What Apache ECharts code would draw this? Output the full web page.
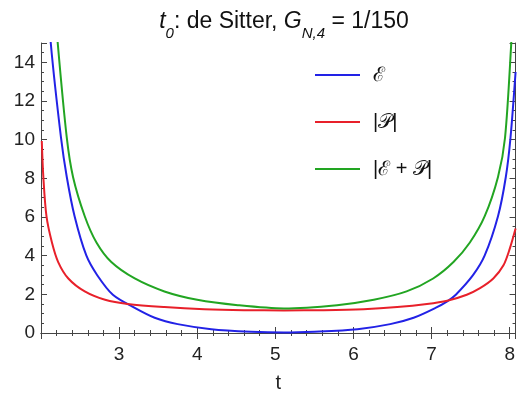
<!DOCTYPE html>
<html><head><meta charset="utf-8">
<script src="https://cdn.jsdelivr.net/npm/echarts@6/dist/echarts.min.js"></script>
<style>html,body{margin:0;padding:0;background:#fff}#c{width:518px;height:398px}</style>
</head><body><div id="c"></div>
<script>
// Energy density E (blue)
const tE = [2.08, 2.125, 2.256, 2.33, 2.43, 2.58, 2.72, 2.92, 3.2, 3.455, 3.75, 4.18, 4.69, 5.11, 5.5, 6.05, 6.47, 6.77, 7.05, 7.2, 7.31, 7.53, 7.68, 7.85, 7.95, 8.01, 8.075];
const vE = [18, 15, 10.1, 8.07, 6.04, 4.01, 2.99, 1.98, 1.30, 0.79, 0.46, 0.2, 0.07, 0.03, 0.07, 0.2, 0.46, 0.79, 1.30, 1.64, 1.98, 2.99, 4.01, 6.04, 8.07, 10.1, 13.5];
// |P| (red)
const tP = [2.01, 2.03, 2.07, 2.14, 2.22, 2.35, 2.56, 2.82, 3.11, 3.58, 4.09, 4.6, 5.11, 5.62, 6.13, 6.56, 6.94, 7.2, 7.45, 7.62, 7.79, 7.92, 8.0, 8.075];
const vP = [9.93, 8.07, 6.04, 4.68, 3.67, 2.82, 2.15, 1.72, 1.50, 1.34, 1.23, 1.18, 1.17, 1.18, 1.23, 1.34, 1.50, 1.67, 1.98, 2.32, 2.82, 3.5, 4.35, 5.4];
// |E + P| (green)
const tEP = [2.17, 2.214, 2.33, 2.41, 2.56, 2.71, 2.9, 3.2, 3.58, 4.0, 4.52, 5.11, 5.79, 6.26, 6.68, 7.02, 7.28, 7.49, 7.68, 7.85, 7.94, 8.02, 8.05];
const vEP = [17.5, 15, 10.1, 8.07, 6.04, 4.68, 3.67, 2.82, 2.15, 1.72, 1.44, 1.27, 1.44, 1.72, 2.15, 2.82, 3.67, 4.68, 6.04, 8.07, 10.1, 15, 17.5];
const seriesNames = ['ℰ', '|𝒫|', '|ℰ + 𝒫|'];
const seriesColors = ['#2222e6', '#e8202a', '#22a522'];
const xTicks = [3, 4, 5, 6, 7, 8];
const yTicks = [0, 2, 4, 6, 8, 10, 12, 14];

const zip = (a, b) => a.map((t, i) => [t, b[i]]);
const chart = echarts.init(document.getElementById('c'), null, {renderer: 'canvas'});
const FONT = 'Liberation Sans, Arial, sans-serif';
const axisCommon = {
  axisLine: {show: true, lineStyle: {color: '#444', width: 1}},
  axisTick: {show: true, inside: true, length: 6, lineStyle: {color: '#444'}},
  splitLine: {show: false}
};
const mkSeries = (i, t, v) => ({
  name: seriesNames[i], type: 'line', data: zip(t, v), smooth: 0.3,
  showSymbol: false, symbol: 'none', clip: true,
  color: seriesColors[i], lineStyle: {width: 2, color: seriesColors[i]}
});
chart.setOption({
  animation: false,
  backgroundColor: '#fff',
  title: {
    text: '{it|t}{sub|0}{n|: de Sitter, }{it|G}{sub|N,4}{n| = 1/150}',
    left: 279, textAlign: 'center', top: 2,
    textStyle: {
      fontWeight: 'normal',
      rich: {
        n: {fontFamily: FONT, fontSize: 23, fontWeight: 'normal', color: '#111', lineHeight: 30, verticalAlign: 'middle'},
        it: {fontFamily: FONT, fontSize: 23, fontWeight: 'normal', fontStyle: 'italic', color: '#111', lineHeight: 30, verticalAlign: 'middle'},
        sub: {fontFamily: FONT, fontSize: 15, fontWeight: 'normal', fontStyle: 'italic', color: '#111', lineHeight: 14, verticalAlign: 'bottom', padding: [0, 0, -4, 0]}
      }
    }
  },
  legend: {
    orient: 'vertical', left: 310, top: 60, itemWidth: 45, itemHeight: 2, itemGap: 27,
    icon: 'rect',
    data: seriesNames,
    textStyle: {fontFamily: FONT, fontSize: 20, color: '#111', padding: [0, 0, 0, 8]}
  },
  grid: {left: 41, right: 1, top: 43, bottom: 59},
  xAxis: [{
    type: 'value', min: 2, max: 8.075, interval: 1, position: 'bottom',
    name: 't', nameLocation: 'middle', nameGap: 40,
    nameTextStyle: {fontFamily: FONT, fontSize: 20, color: '#222'},
    ...axisCommon,
    minorTick: {show: true, splitNumber: 5, length: 3, lineStyle: {color: '#444'}},
    axisLabel: {fontFamily: FONT, fontSize: 19, color: '#222', margin: 12, showMaxLabel: false, showMinLabel: false,
      formatter: v => xTicks.includes(v) ? String(v) : ''}
  }, {
    type: 'value', min: 2, max: 8.075, interval: 1, position: 'top',
    ...axisCommon,
    minorTick: {show: true, splitNumber: 5, length: 3, lineStyle: {color: '#444'}},
    axisLabel: {show: false}
  }],
  yAxis: [{
    type: 'value', min: 0, max: 15, interval: 2, position: 'left',
    ...axisCommon,
    minorTick: {show: true, splitNumber: 4, length: 3, lineStyle: {color: '#444'}},
    axisLabel: {fontFamily: FONT, fontSize: 19, color: '#222', margin: 6, showMaxLabel: false,
      formatter: v => yTicks.includes(v) ? String(v) : ''}
  }, {
    type: 'value', min: 0, max: 15, interval: 2, position: 'right',
    ...axisCommon,
    minorTick: {show: true, splitNumber: 4, length: 3, lineStyle: {color: '#444'}},
    axisLabel: {show: false}
  }],
  series: [mkSeries(0, tE, vE), mkSeries(1, tP, vP), mkSeries(2, tEP, vEP)]
});
</script>
</body></html>
